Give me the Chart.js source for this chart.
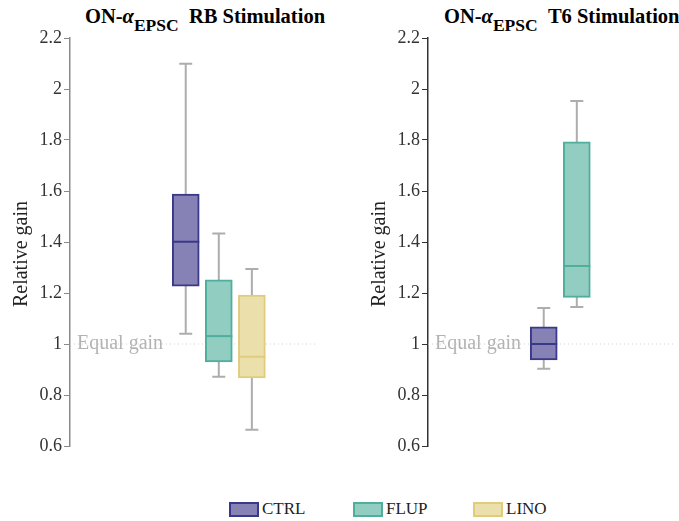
<!DOCTYPE html>
<html lang="en">
<head>
    <meta charset="UTF-8">
    <title>ON-alpha EPSC relative gain</title>
    <script src="https://cdn.jsdelivr.net/npm/chart.js"></script>
    <style>
        body {
            margin: 0;
            background: #fff;
            font-family: "Liberation Serif", "Times New Roman", serif;
            width: 679px;
            height: 521px;
            position: relative;
            overflow: hidden;
        }
        .panel {
            position: absolute;
            top: 0;
            width: 320px;
            height: 470px;
        }
        .title {
            position: absolute;
            top: 5px;
            font-size: 20.5px;
            font-weight: bold;
            color: #000;
            white-space: nowrap;
        }
        .title sub {
            font-size: 17.5px;
            vertical-align: -8px;
            line-height: 0;
        }
        .legend-item {
            position: absolute;
            top: 499px;
            font-size: 17px;
            color: #222;
            display: flex;
            align-items: center;
        }
        .legend-item span.box {
            display: inline-block;
            width: 26px;
            height: 11px;
            border: 2px solid;
            margin-right: 3px;
        }
    </style>
</head>
<body>
    <div class="title" style="left:85px">ON-<i>α</i><sub>EPSC</sub>&nbsp;&nbsp;RB Stimulation</div>
    <div class="title" style="left:444px">ON-<i>α</i><sub>EPSC</sub>&nbsp;&nbsp;T6 Stimulation</div>
    <div class="panel" style="left:0"><canvas id="rbChart" width="320" height="470"></canvas></div>
    <div class="panel" style="left:358px"><canvas id="t6Chart" width="320" height="470"></canvas></div>
    <div id="legend"></div>

    <script>
        // box plot summaries
        const groups = ['CTRL', 'FLUP', 'LINO'];
        const fills = ['#8682b6', '#91cdc1', '#ebdfab'];
        const borders = ['#3a3889', '#4fae9c', '#e0cc7c'];

        const rbMin = [1.04, 0.872, 0.664];
        const rbQ1 = [1.227, 0.93, 0.867];
        const rbMed = [1.401, 1.031, 0.95];
        const rbQ3 = [1.588, 1.252, 1.192];
        const rbMax = [2.099, 1.433, 1.294];

        const t6Min = [0.903, 1.145, null];
        const t6Q1 = [0.938, 1.183, null];
        const t6Med = [1.0, 1.306, null];
        const t6Q3 = [1.067, 1.793, null];
        const t6Max = [1.141, 1.953, null];

        const yTicks = [0.6, 0.8, 1, 1.2, 1.4, 1.6, 1.8, 2, 2.2];
        const equalGain = 1;

        const serif = '"Liberation Serif", "Times New Roman", serif';

        function makeChart(id, mins, q1s, meds, q3s, maxs, axisColor) {
            const datasets = groups.map((g, i) => ({
                label: g,
                data: q1s[i] == null ? [] : [{ x: i, y: [q1s[i], q3s[i]] }],
                backgroundColor: fills[i],
                borderColor: borders[i],
                borderWidth: 2,
                borderSkipped: false,
                grouped: false,
                barThickness: 27
            }));

            const boxExtras = {
                id: 'boxExtras',
                beforeDatasetsDraw(chart) {
                    const { ctx, chartArea, scales } = chart;
                    const y1 = scales.y.getPixelForValue(equalGain);
                    ctx.save();
                    ctx.strokeStyle = '#d4d4d4';
                    ctx.lineWidth = 1;
                    ctx.setLineDash([1, 3]);
                    ctx.beginPath();
                    ctx.moveTo(chartArea.left, y1);
                    ctx.lineTo(chartArea.right, y1);
                    ctx.stroke();
                    ctx.setLineDash([]);
                    ctx.fillStyle = '#b3b3b3';
                    ctx.font = '20px ' + serif;
                    ctx.textBaseline = 'middle';
                    ctx.fillText('Equal gain', chartArea.left + 7, y1);

                    // whiskers
                    ctx.strokeStyle = '#adadad';
                    ctx.lineWidth = 2;
                    groups.forEach((g, i) => {
                        if (mins[i] == null) return;
                        const x = scales.x.getPixelForValue(i);
                        const yLo = scales.y.getPixelForValue(mins[i]);
                        const yHi = scales.y.getPixelForValue(maxs[i]);
                        ctx.beginPath();
                        ctx.moveTo(x, yLo);
                        ctx.lineTo(x, yHi);
                        ctx.moveTo(x - 6.5, yLo);
                        ctx.lineTo(x + 6.5, yLo);
                        ctx.moveTo(x - 6.5, yHi);
                        ctx.lineTo(x + 6.5, yHi);
                        ctx.stroke();
                    });
                    ctx.restore();
                },
                afterDatasetsDraw(chart) {
                    const { ctx, scales } = chart;
                    ctx.save();
                    ctx.lineWidth = 2;
                    groups.forEach((g, i) => {
                        if (meds[i] == null) return;
                        const x = scales.x.getPixelForValue(i);
                        const y = scales.y.getPixelForValue(meds[i]);
                        ctx.strokeStyle = borders[i];
                        ctx.beginPath();
                        ctx.moveTo(x - 13.5, y);
                        ctx.lineTo(x + 13.5, y);
                        ctx.stroke();
                    });
                    ctx.restore();
                },
                afterDraw(chart) {
                    // y axis title, sits a bit below the middle of the axis
                    const { ctx, chartArea } = chart;
                    ctx.save();
                    ctx.translate(22, (chartArea.top + chartArea.bottom) / 2 + 12);
                    ctx.rotate(-Math.PI / 2);
                    ctx.font = '20px ' + serif;
                    ctx.fillStyle = '#222';
                    ctx.textAlign = 'center';
                    ctx.textBaseline = 'middle';
                    ctx.fillText('Relative gain', 0, 0);
                    ctx.restore();
                }
            };

            return new Chart(document.getElementById(id), {
                type: 'bar',
                data: { datasets },
                options: {
                    responsive: false,
                    animation: false,
                    layout: { padding: { top: 38, right: 2, bottom: 24, left: 0 } },
                    plugins: {
                        legend: { display: false },
                        tooltip: { enabled: false }
                    },
                    scales: {
                        x: {
                            type: 'linear',
                            min: -3.5,
                            max: 4,
                            offset: false,
                            display: false
                        },
                        y: {
                            min: 0.6,
                            max: 2.2,
                            afterBuildTicks: axis => {
                                axis.ticks = yTicks.map(v => ({ value: v }));
                            },
                            afterFit: axis => { axis.width = 70; },
                            border: { display: true, color: axisColor, width: 1.5 },
                            grid: {
                                drawOnChartArea: false,
                                drawTicks: true,
                                tickLength: 6,
                                color: axisColor
                            },
                            ticks: {
                                padding: 2,
                                color: '#333',
                                font: { family: serif, size: 18 },
                                callback: v => String(+v.toFixed(1))
                            },
                            title: { display: false }
                        }
                    }
                },
                plugins: [boxExtras]
            });
        }

        function drawAll() {
            makeChart('rbChart', rbMin, rbQ1, rbMed, rbQ3, rbMax, '#8a8a8a');
            makeChart('t6Chart', t6Min, t6Q1, t6Med, t6Q3, t6Max, '#333');
        }

        // make sure the serif face is ready before the canvases use it
        Promise.all([
            document.fonts.load('18px "Liberation Serif"'),
            document.fonts.load('bold 18px "Liberation Serif"')
        ]).then(drawAll, drawAll);

        // shared legend
        const legendX = [229, 353, 473];
        const legend = document.getElementById('legend');
        groups.forEach((g, i) => {
            const item = document.createElement('div');
            item.className = 'legend-item';
            item.style.left = legendX[i] + 'px';
            const box = document.createElement('span');
            box.className = 'box';
            box.style.background = fills[i];
            box.style.borderColor = borders[i];
            item.appendChild(box);
            item.appendChild(document.createTextNode(g));
            legend.appendChild(item);
        });
    </script>
</body>
</html>
